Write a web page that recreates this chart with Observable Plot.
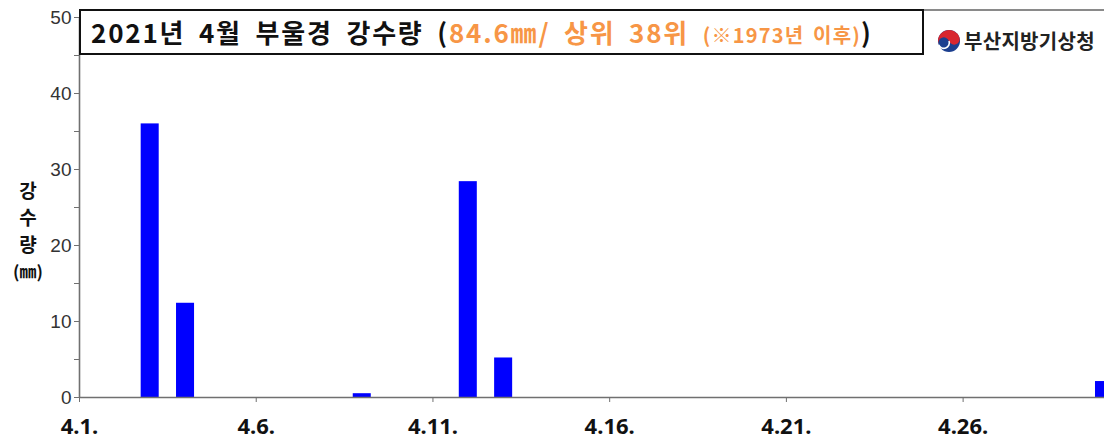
<!DOCTYPE html>
<html>
<head>
<meta charset="utf-8">
<script src="https://cdn.jsdelivr.net/npm/d3@7"></script>
<script src="https://cdn.jsdelivr.net/npm/@observablehq/plot@0.6"></script>
<style>
  html, body { margin: 0; padding: 0; background: #fff; }
  #wrap { position: relative; width: 1104px; height: 442px; overflow: hidden; background: #fff; }
  #chart { position: absolute; left: 0; top: 0; }
  .topline { position: absolute; left: 79px; top: 9px; width: 1030px; border-top: 2px solid #8a8a8a; }
  .titlebox { position: absolute; left: 79px; top: 9px; width: 845px; height: 46px; box-sizing: border-box;
    border: 2px solid #111; background: #fff; font-family: "Noto Sans CJK KR", "Noto Sans", sans-serif;
    font-weight: 700; font-size: 26px; line-height: 41px; padding-left: 10px; color: #111; white-space: nowrap;
    word-spacing: 6px; letter-spacing: 1.8px; }
  .orange { color: #f79646; }
  .small { font-size: 20px; word-spacing: 3px; letter-spacing: 1.2px; }
  .logo { position: absolute; left: 936px; top: 26px; display: flex; align-items: center; white-space: nowrap;
    font-family: "Noto Sans CJK KR", sans-serif; font-weight: 700; font-size: 20px; color: #222; letter-spacing: 0.3px; }
  .ylabel { position: absolute; left: 8px; top: 176px; width: 40px; text-align: center;
    font-family: "Noto Sans CJK KR", sans-serif; font-weight: 700; color: #111; }
  .ylabel div { font-size: 19px; line-height: 27px; }
  .ylabel div.u { font-size: 17px; line-height: 27px; }
</style>
</head>
<body>
<div id="wrap">
  <div id="chart"></div>
  <div class="topline"></div>
  <div class="titlebox">2021년 4월 부울경 강수량 (<span class="orange">84.6㎜/ 상위 38위 <span class="small">(※1973년 이후)</span></span>)</div>
  <div class="logo">
    <svg width="26" height="26" viewBox="-13 -13 26 26">
      <circle r="11" fill="#1b3f8f"/>
      <path d="M -11 0 A 11 11 0 0 1 11 0 A 5.5 5.5 0 0 1 0 0 A 5.5 5.5 0 0 0 -11 0 Z" fill="#d8262f" transform="rotate(-20)"/>
      <path d="M -11 0 A 5.5 5.5 0 0 0 0 0" fill="none" stroke="#fff" stroke-width="1.6" transform="rotate(-20)"/>
    </svg>
    <span style="margin-left:2px">부산지방기상청</span>
  </div>
  <div class="ylabel"><div>강</div><div>수</div><div>량</div><div class="u">(㎜)</div></div>
</div>
<script>
const days = [3, 4, 9, 12, 13, 30];
const rainfall = [36.0, 12.4, 0.5, 28.4, 5.2, 2.1];
const xTickDays = [1, 6, 11, 16, 21, 26];
const xTickLabels = ["4.1.", "4.6.", "4.11.", "4.16.", "4.21.", "4.26."];
const yTicks = [0, 10, 20, 30, 40, 50];
const yMinorTicks = [5, 15, 25, 35, 45];

const data = days.map((d, i) => ({day: d, mm: rainfall[i]}));

const chart = Plot.plot({
  width: 1104,
  height: 442,
  marginLeft: 79,
  marginRight: 0,
  marginTop: 17,
  marginBottom: 45,
  style: {background: "transparent", fontFamily: "Liberation Sans, Arial, sans-serif", color: "#666"},
  x: {type: "linear", domain: [1, 30]},
  y: {domain: [0, 50]},
  marks: [
    Plot.rectY(data, {x1: d => d.day - 0.255, x2: d => d.day + 0.255, y1: 0, y2: "mm", fill: "#0000ff"}),
    Plot.ruleY([0], {stroke: "#707070", strokeWidth: 1.6}),
    Plot.ruleX([1], {stroke: "#707070", strokeWidth: 1.6}),
    Plot.axisX(xTickDays, {
      tickFormat: d => xTickLabels[xTickDays.indexOf(d)],
      tickSize: 5, tickPadding: 16, fontSize: 22, fontWeight: 700,
      fontFamily: "Noto Sans, Open Sans, sans-serif",
      fill: "#111", stroke: "#707070", label: null
    }),
    Plot.axisY(yTicks, {
      tickSize: 5, tickPadding: 3, fontSize: 19, fill: "#333", stroke: "#707070", label: null
    }),
    Plot.axisY(yMinorTicks, {
      tickSize: 5, tickFormat: () => "", stroke: "#707070", label: null
    })
  ]
});
document.getElementById("chart").appendChild(chart);
</script>
</body>
</html>
